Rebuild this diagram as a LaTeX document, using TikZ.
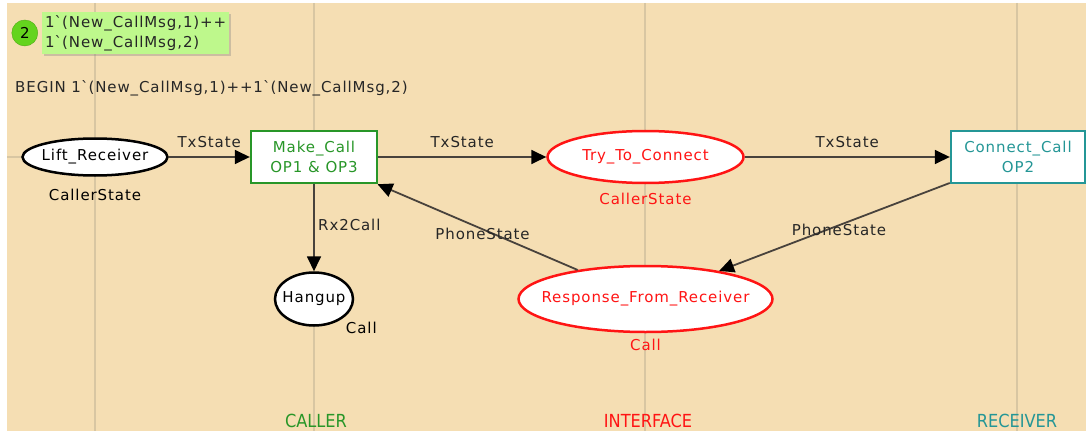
\documentclass[tikz,border=0pt]{standalone}
\usepackage{fontspec}
\setmainfont{DejaVu Sans}[LetterSpace=6]
\newfontfamily\lanefont{DejaVu Sans Condensed}
\usetikzlibrary{shapes.geometric,arrows.meta,positioning,shadows}
\definecolor{wheatbg}{RGB}{245, 222, 179}
\definecolor{gridln}{RGB}{216, 198, 162}
\definecolor{caller}{RGB}{40, 150, 40}
\definecolor{iface}{RGB}{255, 20, 20}
\definecolor{receiver}{RGB}{36, 150, 150}
\definecolor{tokbg}{RGB}{190, 248, 140}
\definecolor{tokdot}{RGB}{100, 212, 30}
\definecolor{arcgray}{RGB}{72, 66, 60}
\newcommand{\ctext}[1]{\makebox[0pt]{#1}}

\begin{document}
\begin{tikzpicture}[
    x=1pt, y=-1pt,
    font=\fontsize{15}{20}\selectfont,
    place/.style={ellipse, draw=#1, line width=2.5pt, fill=white, inner sep=0pt, text=#1},
    place/.default=black,
    trans/.style={rectangle, draw=#1, line width=2.5pt, fill=white, align=center,
                  minimum height=52pt, text=#1},
    arc/.style={-{Triangle[length=15pt, width=14pt, color=black]}, line width=1.8pt, arcgray},
    lane/.style={font=\lanefont\fontsize{18}{20}\selectfont, text=#1},
    marking/.style={rectangle, fill=tokbg, align=left, inner sep=3pt, text=black!85,
                    drop shadow={shadow xshift=2pt, shadow yshift=-2pt, opacity=.35}},
    count/.style={circle, fill=tokdot, draw=tokdot!80!black, minimum size=26pt, inner sep=0pt,
                  font=\fontsize{15}{16}\selectfont}
]
% Page and swim lanes
\useasboundingbox (0,0) rectangle (1086,433);
\fill[wheatbg] (7,3) rectangle (1086,431);
\foreach \gx in {95,314,645,1017}
    \draw[gridln, line width=2pt] (\gx,3) -- (\gx,431);
\draw[gridln, line width=2pt] (7,157) -- (1086,157);

% Initial marking
\node[marking, anchor=north west] (mark) at (42,12)
    {1\textasciigrave(New\_CallMsg,1)++\\1\textasciigrave(New\_CallMsg,2)};
\node[count, left=4pt of mark] (cnt) {2};
\node[anchor=west, inner sep=0pt, text=black!85] (init) at (15,88)
    {BEGIN 1\textasciigrave(New\_CallMsg,1)++1\textasciigrave(New\_CallMsg,2)};

% Places and transitions
\node[place, minimum width=145pt, minimum height=37pt] (lift) at (95,157) {\ctext{Lift\_Receiver}};
\node[trans=caller, minimum width=126pt, right=81pt of lift] (make) {Make\_Call\\OP1 \& OP3};
\node[place=iface, minimum width=196pt, minimum height=52pt, right=168pt of make] (try) {\ctext{Try\_To\_Connect}};
\node[trans=receiver, minimum width=134pt, right=205pt of try] (conn) {Connect\_Call\\OP2};
\node[place, minimum width=78pt, minimum height=53pt, below=87pt of make] (hang) {\ctext{Hangup}};
\node[place=iface, minimum width=254pt, minimum height=66pt, right=163pt of hang] (resp) {\ctext{Response\_From\_Receiver}};

% Colour sets
\node[below=9pt of lift] (liftcs) {CallerState};
\node[text=iface, below=5pt of try] (trycs) {CallerState};
\node[below right=0pt of hang] (hangcs) {Call};
\node[text=iface, below=2pt of resp] (respcs) {Call};

% Arcs
\draw[arc] (lift) -- node[above=5pt, text=black!85] {TxState} (make);
\draw[arc] (make) -- node[above=5pt, text=black!85] {TxState} (try);
\draw[arc] (try) -- node[above=5pt, text=black!85] {TxState} (conn);
\draw[arc] (make) -- node[pos=.47, right, text=black!85] {Rx2Call} (hang);
\draw[arc] (conn) -- node[pos=.48, yshift=-4.5pt, text=black!85] {PhoneState} (resp);
\draw[arc] (resp) -- node[pos=.475, yshift=-4.5pt, text=black!85] {PhoneState} (make);

% Lane names
\node[lane=caller] (callerlane) at (316,421) {CALLER};
\node[lane=iface] (ifacelane) at (648,421) {INTERFACE};
\node[lane=receiver] (rxlane) at (1017,421) {RECEIVER};
\end{tikzpicture}
\end{document}
